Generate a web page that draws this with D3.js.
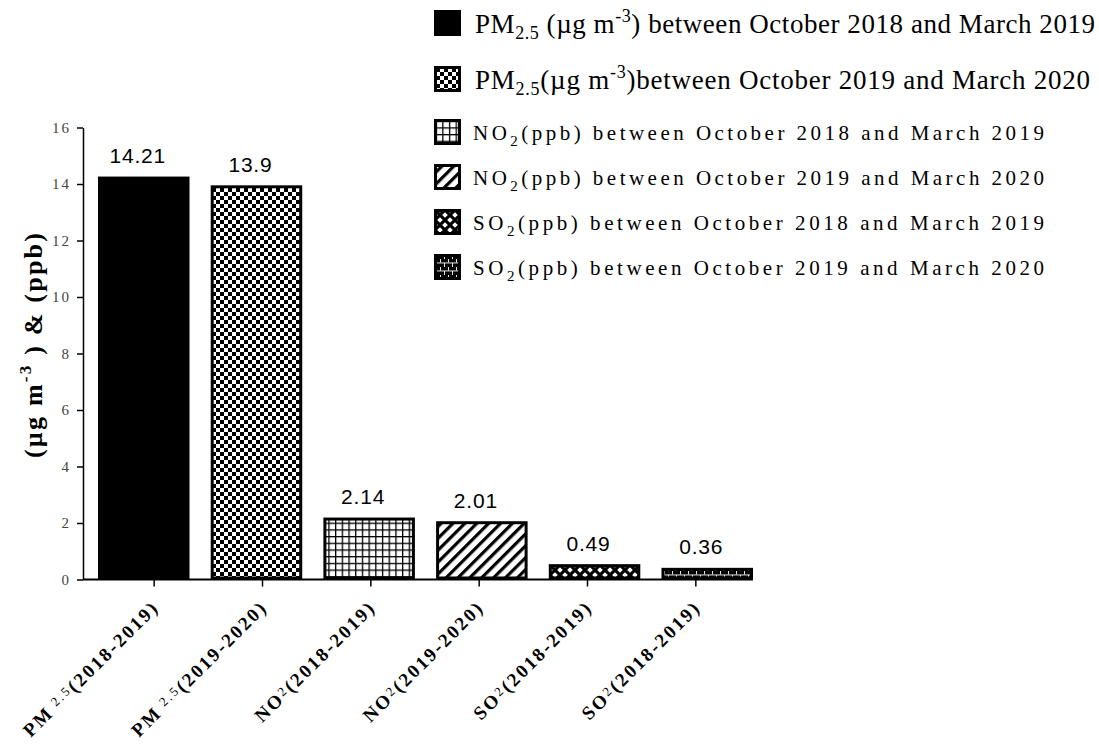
<!DOCTYPE html>
<html>
<head>
<meta charset="utf-8">
<script src="https://cdn.jsdelivr.net/npm/d3@7"></script>
<style>
  body { margin: 0; background: #fff; }
  svg { display: block; }
  text { white-space: pre; }
</style>
</head>
<body>
<svg id="chart" width="1099" height="746"></svg>
<script>
// ---- data ----
const categories = ["PM2.5 2018-2019", "PM2.5 2019-2020", "NO2 2018-2019", "NO2 2019-2020", "SO2 2018-2019", "SO2 2019-2020"];
const values = [14.21, 13.9, 2.14, 2.01, 0.49, 0.36];
const fills = ["solid", "checker", "grid", "stripes", "diamond", "brick"];
const yTicks = d3.range(0, 17, 2);

// axis labels: [main, small, rest]
const tickLabels = [
  ["PM", " 2.5", "(2018-2019)"],
  ["PM", " 2.5", "(2019-2020)"],
  ["NO", "2", "(2018-2019)"],
  ["NO", "2", "(2019-2020)"],
  ["SO", "2", "(2018-2019)"],
  ["SO", "2", "(2018-2019)"]
];

const legendLabels = [
  [{t: "PM"}, {t: "2.5", sub: true}, {t: " (µg m"}, {t: "-3", sup: true}, {t: ") between October 2018 and March 2019"}],
  [{t: "PM"}, {t: "2.5", sub: true}, {t: "(µg m"}, {t: "-3", sup: true}, {t: ")between October 2019 and March 2020"}],
  [{t: "NO"}, {t: "2", sub: true}, {t: "(ppb) between October 2018 and March 2019"}],
  [{t: "NO"}, {t: "2", sub: true}, {t: "(ppb) between October 2019 and March 2020"}],
  [{t: "SO"}, {t: "2", sub: true}, {t: "(ppb) between October 2018 and March 2019"}],
  [{t: "SO"}, {t: "2", sub: true}, {t: "(ppb) between October 2019 and March 2020"}]
];

const yTitle = [{t: "(µg m"}, {t: "-3", sup: true}, {t: " ) & (ppb)"}];

// ---- setup ----
const svg = d3.select("#chart");
const serif = "'Liberation Serif','Times New Roman',Times,serif";
const sans = "'Liberation Sans',Arial,Helvetica,sans-serif";

const axisX = 83;
const y = d3.scaleLinear().domain([0, 16]).range([579.5, 127.5]);
const xBar = d3.scaleBand().domain(categories).range([98, 753]).paddingInner(0.188);
const xTick = d3.scaleBand().domain(categories).range([100, 750]);

// stretch letter spacing so a text spans a given width
function fitSpacing(sel, target) {
  const node = sel.node();
  sel.attr("letter-spacing", 0);
  const w = node.getComputedTextLength();
  const n = node.getNumberOfChars();
  sel.attr("letter-spacing", (target - w) / (n - 1));
}

// append text runs with sub/superscript shifts
function addParts(sel, parts, smallSize, subShift, supShift) {
  let off = 0;
  parts.forEach(p => {
    const target = p.sub ? subShift : p.sup ? -supShift : 0;
    const ts = sel.append("tspan").attr("dy", target - off).text(p.t);
    if (p.sub || p.sup) ts.style("font-size", smallSize + "px");
    off = target;
  });
}

// ---- fill patterns ----
const defs = svg.append("defs");
function pattern(id, w, h) {
  return defs.append("pattern").attr("id", id)
    .attr("patternUnits", "userSpaceOnUse").attr("width", w).attr("height", h);
}
let p = pattern("checker", 8, 8);
p.append("rect").attr("width", 8).attr("height", 8).attr("fill", "#fff");
p.append("rect").attr("width", 4).attr("height", 4).attr("fill", "#000");
p.append("rect").attr("x", 4).attr("y", 4).attr("width", 4).attr("height", 4).attr("fill", "#000");

p = pattern("grid", 6.7, 6.7);
p.append("rect").attr("width", 6.7).attr("height", 6.7).attr("fill", "#fff");
p.append("rect").attr("width", 6.7).attr("height", 1.3).attr("fill", "#000");
p.append("rect").attr("width", 1.3).attr("height", 6.7).attr("fill", "#000");

p = pattern("stripes", 8.4, 8.4).attr("patternTransform", "rotate(45)");
p.append("rect").attr("width", 8.4).attr("height", 8.4).attr("fill", "#fff");
p.append("rect").attr("width", 3.2).attr("height", 8.4).attr("fill", "#000");

p = pattern("diamond", 10, 10);
p.append("rect").attr("width", 10).attr("height", 10).attr("fill", "#000");
[[5, 5], [0, 0], [10, 0], [0, 10], [10, 10]].forEach(([cx, cy]) => {
  p.append("path").attr("d", `M${cx},${cy - 2.8}L${cx + 2.8},${cy}L${cx},${cy + 2.8}L${cx - 2.8},${cy}Z`).attr("fill", "#fff");
});

p = pattern("brick", 8, 8).attr("y", 3);
p.append("rect").attr("width", 8).attr("height", 8).attr("fill", "#000");
p.append("rect").attr("y", 3.5).attr("width", 8).attr("height", 0.9).attr("fill", "#fff");
p.append("rect").attr("x", 0).attr("y", 0).attr("width", 0.9).attr("height", 3.5).attr("fill", "#fff");
p.append("rect").attr("x", 4).attr("y", 4).attr("width", 0.9).attr("height", 4).attr("fill", "#fff");

const fillOf = f => f === "solid" ? "#000" : `url(#${f})`;

// ---- bars ----
svg.append("g").selectAll("rect").data(values).join("rect")
  .attr("x", (d, i) => xBar(categories[i]) + 1.5)
  .attr("y", d => y(d))
  .attr("width", xBar.bandwidth() - 3)
  .attr("height", d => y(0) - y(d) - 1.5)
  .attr("fill", (d, i) => fillOf(fills[i]))
  .attr("stroke", "#000")
  .attr("stroke-width", 3);

// value labels
svg.append("g").selectAll("text").data(values).join("text")
  .attr("x", (d, i) => xBar(categories[i]) + xBar.bandwidth() / 2 - 6)
  .attr("y", d => y(d) - 15)
  .attr("text-anchor", "middle")
  .attr("font-family", sans)
  .attr("font-size", 21)
  .attr("letter-spacing", 0.8)
  .attr("fill", "#000")
  .text(d => d);

// ---- y axis ----
const gy = svg.append("g").attr("transform", `translate(${axisX},0)`)
  .call(d3.axisLeft(y).tickValues(yTicks).tickSize(6).tickPadding(8).tickSizeOuter(0));
gy.attr("font-family", null).attr("font-size", null);
gy.select(".domain").attr("stroke-width", 1.5);
gy.selectAll(".tick line").attr("stroke-width", 1.5);
gy.selectAll(".tick text")
  .style("font-family", serif).style("font-size", "15px")
  .attr("letter-spacing", 2).attr("fill", "#444").attr("dx", 2);

const yt = svg.append("text")
  .attr("transform", "translate(42,344.5) rotate(-90)")
  .attr("text-anchor", "middle")
  .style("font-family", serif).attr("font-weight", "bold").style("font-size", "26px");
addParts(yt, yTitle, 17, 0, 11);
fitSpacing(yt, 225);

// ---- x axis ----
const gx = svg.append("g").attr("transform", `translate(0,${y(0)})`)
  .call(d3.axisBottom(xTick).tickSize(7).tickSizeOuter(0).tickFormat(""));
gx.select(".domain").remove();
gx.selectAll(".tick line").attr("stroke-width", 1.5);
svg.append("line")
  .attr("x1", axisX).attr("x2", xBar.range()[1])
  .attr("y1", y(0)).attr("y2", y(0))
  .attr("stroke", "#000").attr("stroke-width", 2);

svg.append("g").selectAll("text").data(categories).join("text")
  .attr("transform", c => `translate(${xTick(c) + xTick.bandwidth() / 2 + 6},${y(0) + 29}) rotate(-45)`)
  .attr("text-anchor", "end")
  .style("font-family", serif).attr("font-weight", "bold").style("font-size", "19px")
  .attr("letter-spacing", 2.3)
  .each(function (c, i) {
    const t = d3.select(this);
    const [a, b, rest] = tickLabels[i];
    t.append("tspan").text(a);
    t.append("tspan").style("font-size", "13px").attr("font-weight", "normal").attr("dy", -4).text(b);
    t.append("tspan").attr("dy", 4).text(rest);
  });

// ---- legend ----
const legend = svg.append("g");
legendLabels.forEach((parts, i) => {
  const big = i < 2;
  const base = big ? 33 + i * 56 : 140 + (i - 2) * 45;
  const top = base - (big ? 23 : 21);
  legend.append("rect")
    .attr("x", 435.5).attr("y", top + 1.5)
    .attr("width", 24).attr("height", 23)
    .attr("fill", fillOf(fills[i]))
    .attr("stroke", "#000").attr("stroke-width", 3);
  const t = legend.append("text")
    .attr("x", big ? 475 : 473).attr("y", base)
    .style("font-family", serif).style("font-size", big ? "27px" : "21px").attr("fill", "#000");
  if (big) addParts(t, parts, 18, 6, 11);
  else addParts(t, parts, 15, 6, 8);
  fitSpacing(t, big ? (i === 0 ? 620 : 615) : 571);
});
</script>
</body>
</html>
